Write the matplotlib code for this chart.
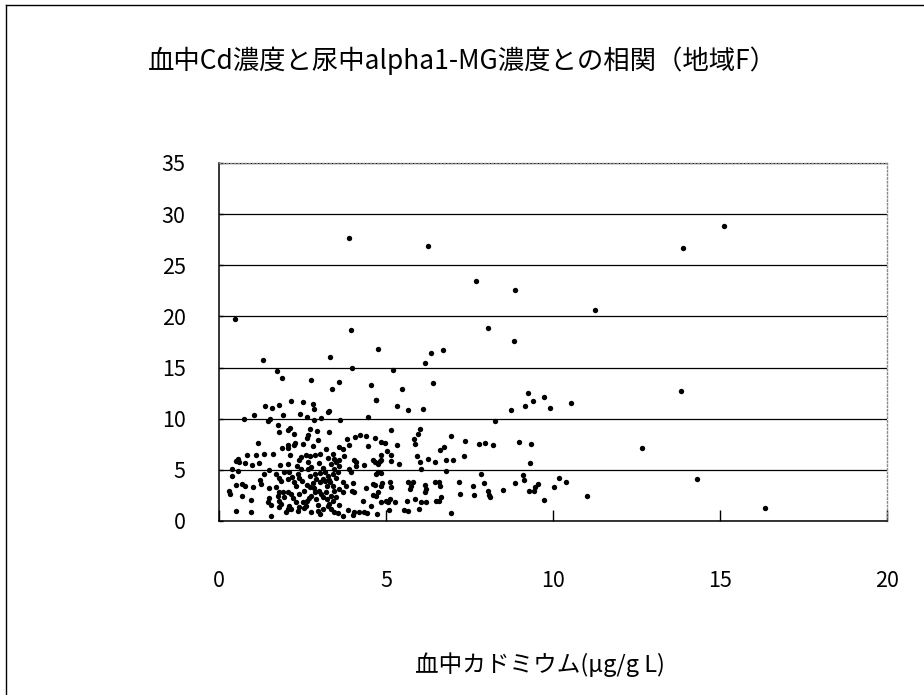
import matplotlib
matplotlib.use("Agg")
import matplotlib.pyplot as plt
from matplotlib.lines import Line2D

plt.rcParams['font.family'] = ['Noto Sans CJK JP', 'DejaVu Sans']

title = "血中Cd濃度と尿中alpha1-MG濃度との相関（地域F）"
xlabel = "血中カドミウム(μg/g L)"
x_ticks = [0, 5, 10, 15, 20]
y_ticks = [0, 5, 10, 15, 20, 25, 30, 35]

# blood Cd (x) and urine alpha1-MG (y)
cd = [
    # sparse / high values
    0.47, 3.88, 6.27, 7.69, 8.87, 11.25, 13.9, 15.11, 13.82, 12.65, 14.3, 16.35,
    3.95, 1.32, 3.33, 1.75, 3.99, 1.88, 2.74, 3.6, 3.37, 4.55, 4.70,
    8.05, 8.83, 4.76, 6.34, 6.70, 6.16, 5.21, 6.41, 5.49,
    9.26, 9.39, 9.73, 9.15, 9.90, 10.55, 8.74, 8.27,
    # x 0-3.3, y 6-12
    2.17, 2.53, 2.80, 2.83, 1.38, 1.59, 1.81, 1.06, 2.44, 2.63, 2.84, 3.04, 3.27,
    0.75, 1.46, 1.53, 1.91, 1.76, 2.14, 2.07, 1.81, 2.26, 2.71, 2.94, 2.66, 2.63,
    2.96, 1.16, 2.29, 2.26, 2.08, 2.06, 2.53, 2.81, 3.19, 1.89, 2.13, 0.85, 1.12,
    1.36, 1.61, 2.46, 2.59, 2.71, 2.86, 3.01, 0.58, 3.26,
    # x 0-3.3, y 0-6
    0.50, 0.60, 0.78, 1.0, 1.2, 1.83, 2.06, 2.41, 2.66, 2.99, 0.40, 0.58, 1.51,
    1.36, 1.71, 1.79, 1.86, 1.96, 2.11, 2.36, 2.41, 2.46, 2.66, 2.71, 2.86, 3.01,
    3.16, 3.26, 0.40, 1.23, 1.26, 0.50, 0.68, 0.78, 1.03, 2.06, 2.26, 2.31, 2.63,
    2.71, 3.01, 3.16, 3.23, 0.30, 0.32, 1.51, 1.81, 1.91, 2.06, 2.16, 0.70, 0.95,
    1.51, 1.46, 1.56, 1.76, 1.81, 1.86, 1.81, 2.21, 2.31, 2.41, 2.51, 2.63, 2.76,
    2.86, 2.99, 2.91, 3.11, 2.16, 2.36, 2.56, 0.50, 0.95, 1.56, 2.01, 2.06, 2.76,
    2.96, 3.01, 3.21, 3.23, 3.26,
    2.2, 2.5, 2.8, 2.9, 3.1, 2.55, 2.4, 2.7, 2.95, 3.1, 2.6, 1.95, 2.1, 1.7, 2.85,
    3.05, 2.35, 2.75, 3.1,
    # x 3.3-6.6, y 6-12
    4.71, 5.34, 5.67, 6.10, 3.30, 4.45, 3.62, 3.30, 5.16, 6.02, 5.96, 4.22, 4.07,
    4.40, 4.66, 3.82, 3.90, 5.84, 5.86, 4.86, 4.96, 5.33, 4.47, 3.60, 3.70, 5.04,
    3.41, 3.75, 4.84, 5.14, 5.94, 6.26, 3.45, 3.60, 4.05, 4.60, 4.86,
    # x 3.3-6.6, y 0-6
    3.35, 3.50, 3.60, 3.45, 3.55, 3.40, 3.90, 3.95, 4.10, 4.10, 4.35, 4.66, 4.76,
    4.81, 5.14, 5.38, 6.01, 6.04, 6.46, 4.76, 4.84, 4.71, 3.33, 3.40, 3.45, 3.35,
    3.40, 3.30, 3.70, 3.80, 3.70, 4.00, 3.97, 4.05, 4.40, 4.61, 4.68, 4.88, 4.84,
    5.11, 5.14, 4.61, 4.76, 4.71, 4.54, 4.30, 4.86, 5.01, 5.11, 5.06, 5.26, 5.66,
    5.74, 5.71, 5.81, 6.16, 6.21, 6.16, 6.46, 5.64, 5.88, 6.04, 6.21, 6.51, 3.85,
    4.05, 4.20, 4.35, 4.43, 4.74, 5.08, 3.70, 4.00, 5.54, 5.66, 5.98, 3.35, 3.45,
    3.55, 3.5, 3.6, 3.5, 3.6, 3.3,
    # x 6.5-11
    6.94, 7.37, 7.77, 7.97, 8.21, 8.99, 9.35, 6.73, 6.63, 7.33, 6.79, 7.01,
    9.30, 6.81, 7.85, 9.10, 9.14, 10.19, 10.38, 6.59, 6.63, 7.18, 7.61, 7.92,
    8.87, 9.54, 9.47, 9.42, 9.27, 10.02, 8.04, 8.07, 8.10, 8.49, 7.23, 7.64,
    6.66, 6.59, 9.72, 6.95, 11.01,
]
a1mg = [
    19.7, 27.7, 26.9, 23.5, 22.6, 20.6, 26.7, 28.8, 12.7, 7.1, 4.1, 1.3,
    18.7, 15.7, 16.0, 14.7, 15.0, 14.0, 13.8, 13.6, 12.95, 13.3, 11.85,
    18.86, 17.56, 16.84, 16.39, 16.75, 15.48, 14.77, 13.53, 12.92,
    12.49, 11.75, 12.14, 11.2, 11.07, 11.58, 10.87, 9.73,
    11.69, 11.62, 11.46, 10.97, 11.2, 11.04, 11.3, 10.4, 10.5, 10.13, 9.9, 10.06, 10.65,
    10.0, 9.8, 9.93, 10.32, 9.35, 9.09, 8.9, 8.70, 8.54, 9.02, 8.76, 8.44, 8.11,
    7.92, 7.66, 7.63, 7.4, 7.46, 7.14, 7.56, 7.34, 7.08, 7.14, 6.49, 6.49, 6.43,
    6.52, 6.52, 6.27, 6.49, 6.33, 6.49, 6.56, 6.04, 6.17,
    5.88, 5.72, 5.65, 5.52, 5.65, 5.46, 5.59, 5.97, 5.72, 5.65, 5.13, 4.87, 4.97,
    4.58, 4.58, 4.25, 3.93, 4.74, 4.81, 4.58, 4.25, 5.07, 5.07, 4.42, 4.58, 4.68,
    4.74, 4.35, 4.42, 4.03, 3.6, 3.51, 3.6, 3.44, 3.28, 4.09, 3.77, 3.44, 3.51,
    3.28, 3.77, 3.93, 3.44, 2.96, 2.63, 3.18, 2.79, 2.79, 2.79, 2.63, 2.4, 2.08,
    2.21, 1.82, 1.56, 2.4, 1.98, 1.66, 1.33, 2.21, 1.82, 1.33, 1.82, 1.98, 2.47,
    2.79, 2.96, 2.14, 2.31, 1.17, 1.01, 1.23, 1.01, 0.91, 0.46, 0.85, 1.17, 0.85,
    1.01, 0.68, 2.79, 2.14, 1.5,
    4.3, 3.9, 3.7, 4.1, 4.1, 2.9, 2.6, 2.2, 1.6, 1.2, 1.5, 2.3, 1.5, 3.3, 3.2,
    2.6, 5.4, 5.3, 5.2,
    11.82, 11.23, 10.84, 10.97, 10.71, 10.19, 9.83, 8.7, 8.86, 9.02, 8.54, 8.44, 8.18,
    8.31, 8.11, 7.98, 7.47, 8.05, 7.56, 7.72, 7.63, 7.43, 7.30, 7.24, 7.01, 6.82,
    6.56, 6.36, 6.49, 6.43, 6.36, 6.10, 6.04, 5.94, 5.95, 5.98, 5.98,
    5.55, 5.72, 5.39, 5.07, 4.74, 4.58, 5.07, 4.74, 5.72, 5.39, 5.46, 5.78, 5.55,
    5.88, 5.88, 5.55, 5.78, 5.13, 5.72, 4.81, 4.68, 4.58, 3.77, 3.44, 2.96, 2.47,
    1.98, 1.66, 3.77, 3.44, 2.79, 3.70, 2.96, 2.79, 3.18, 3.60, 3.51, 3.70, 3.44,
    3.77, 3.28, 2.53, 2.79, 2.40, 1.50, 1.98, 1.82, 1.98, 2.14, 1.82, 1.88, 3.77,
    3.44, 3.12, 3.83, 3.51, 3.12, 2.79, 3.83, 1.98, 2.14, 1.88, 1.82, 1.98, 1.10,
    0.91, 0.85, 0.91, 0.78, 0.68, 1.10, 0.46, 0.59, 1.10, 1.01, 1.17, 1.2, 0.9,
    0.75, 4.2, 3.1, 2.3, 1.6, 4.0,
    8.31, 7.85, 7.56, 7.63, 7.40, 7.72, 7.56, 7.24, 6.91, 6.36, 5.94, 5.94,
    5.62, 4.90, 4.58, 4.48, 4.03, 4.19, 3.77, 3.77, 3.44, 3.77, 3.38, 3.67,
    3.67, 3.60, 3.28, 2.96, 2.96, 3.31, 2.96, 2.53, 2.31, 3.02, 2.63, 2.57,
    2.31, 1.98, 2.05, 0.81, 2.43,
]

fig = plt.figure(figsize=(9.24, 6.95), dpi=100)
ax = fig.add_axes([0.237, 0.2504, 0.723, 0.5151])

ax.scatter(cd, a1mg, s=15, color='black', zorder=3, linewidths=0)

ax.set_xlim(0, 20)
ax.set_ylim(0, 35)
ax.set_xticks(x_ticks)
ax.set_yticks(y_ticks)
ax.yaxis.grid(True, color='black', linewidth=0.9)
ax.set_axisbelow(True)

for side in ['left', 'bottom']:
    ax.spines[side].set_color('black')
    ax.spines[side].set_linewidth(1.1)
for side in ['top', 'right']:
    ax.spines[side].set_color('#888888')
    ax.spines[side].set_linestyle(':')
    ax.spines[side].set_linewidth(1.0)

ax.tick_params(axis='x', direction='in', length=8, width=1, pad=35, labelsize=15.5)
ax.tick_params(axis='y', direction='in', length=3, width=1, pad=24, labelsize=15.5)

fig.text(0.5, 0.912, title, ha='center', va='center', fontsize=19)
fig.text(0.584, 0.043, xlabel, ha='center', va='center', fontsize=17)

# outer chart frame (only top and left edges visible in the scan)
fig.add_artist(Line2D([0.007, 0.007], [0.0, 0.993], color='black', lw=1.0, transform=fig.transFigure))
fig.add_artist(Line2D([0.007, 1.0], [0.993, 0.993], color='black', lw=1.0, transform=fig.transFigure))

fig.savefig("out.png", dpi=100)
